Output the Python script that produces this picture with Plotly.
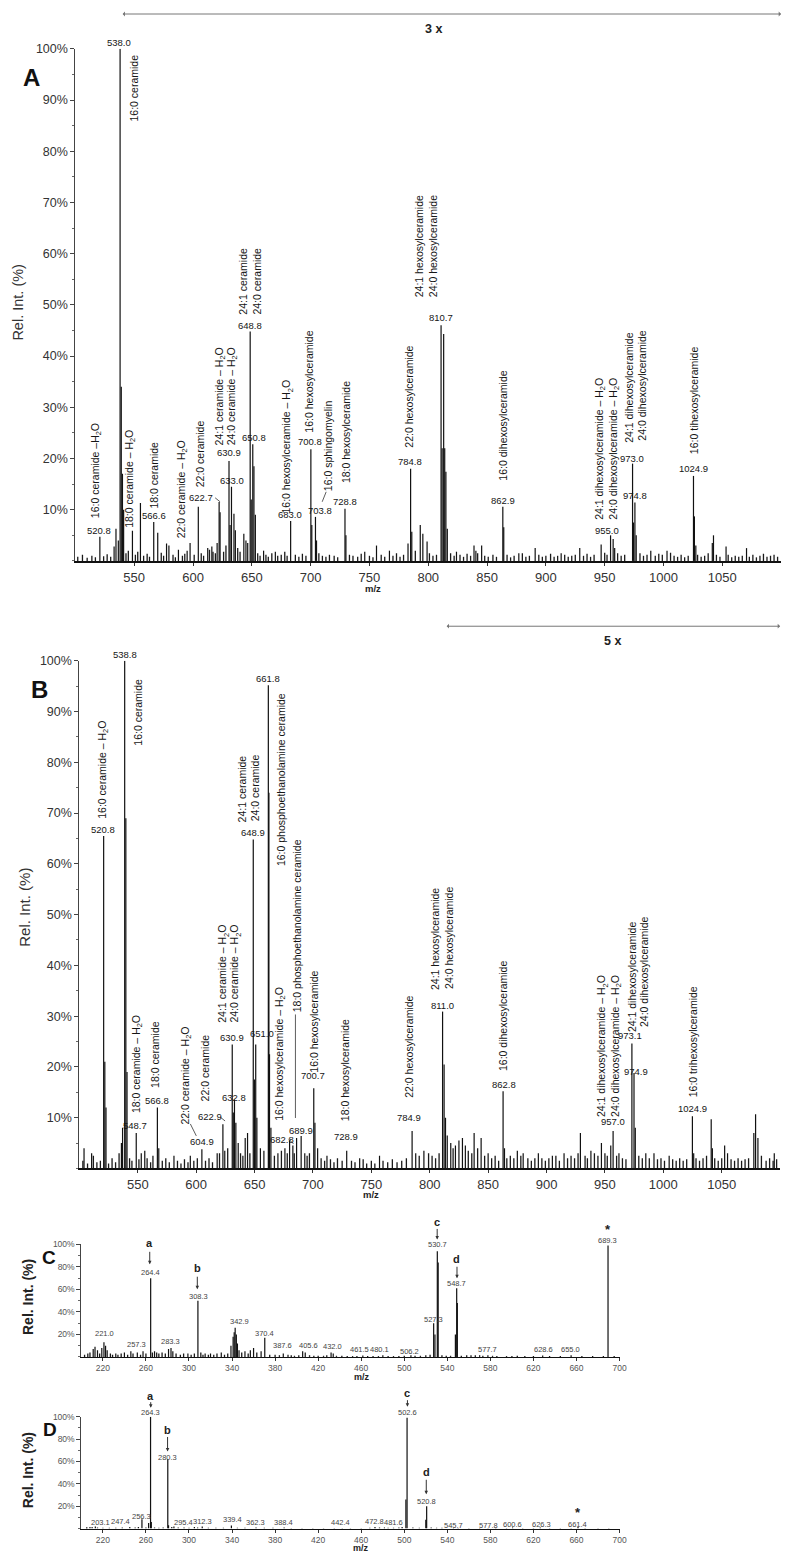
import plotly.graph_objects as go

W, H = 800, 1562            # page (screenshot) size in pixels
OFFX, OFFY = 8, 14          # offset of the figure inside the written html page
FW, FH = W - OFFX, H - OFFY # figure size so that it fits the page exactly
FONT = "Liberation Sans, Arial, Helvetica, sans-serif"


def PX(x):
    return (x - OFFX) / FW


def PY(y):
    return 1 - (y - OFFY) / FH


# ---------------- DATA (m/z, relative intensity %) ----------------
A_peaks = [(520.8, 4.7), (532.9, 2.8), (534.5, 6.3), (536.5, 4.0), (538.0, 100.0), (539.0, 34.0),
           (540.0, 17.0), (541.0, 10.0), (548.5, 5.9), (555.3, 11.3), (566.6, 7.6), (570.0, 5.5),
           (577.5, 3.4), (579.5, 3.0), (587.6, 2.2), (595.0, 2.0), (597.5, 3.5), (604.5, 10.6),
           (612.5, 2.5), (616.0, 2.8), (620.5, 3.5), (622.2, 11.5), (623.0, 9.5), (630.6, 19.5),
           (631.5, 7.0), (632.7, 14.5), (634.8, 9.2), (636.0, 6.0), (643.2, 5.3), (645.0, 4.0),
           (646.5, 3.5), (648.6, 44.8), (649.5, 12.0), (650.8, 22.8), (651.8, 18.5), (653.0, 9.0),
           (660.0, 2.0), (670.0, 1.8), (683.0, 7.8), (700.2, 21.8), (701.0, 7.0), (704.1, 8.6),
           (705.0, 4.0), (729.2, 10.2), (730.0, 5.0), (746.0, 1.8), (756.0, 3.0), (767.0, 2.0),
           (782.8, 3.4), (785.0, 18.0), (786.0, 5.7), (793.2, 7.0), (795.4, 5.3), (799.0, 3.8),
           (810.9, 46.0), (811.8, 22.0), (813.1, 44.3), (814.0, 22.0), (815.0, 17.4), (816.2, 6.3),
           (824.0, 1.8), (838.9, 3.0), (840.5, 2.0), (845.4, 3.0), (863.4, 10.6), (864.2, 6.6),
           (877.0, 1.5), (890.9, 2.5), (913.0, 1.5), (928.8, 2.5), (947.0, 3.2), (955.0, 5.0),
           (957.2, 4.3), (958.5, 2.5), (973.7, 19.0), (974.5, 7.5), (975.7, 11.4), (976.8, 5.0),
           (989.2, 2.0), (1003.0, 2.0), (1025.5, 16.6), (1026.3, 8.7), (1027.5, 3.0), (1041.5, 3.5),
           (1042.5, 5.0), (1053.2, 2.8), (1070.6, 2.5)]

A_noise = [(502, 0.8), (506, 1.2), (510, 0.6), (514, 1.0), (517, 0.7), (524, 0.9), (527, 1.3), (530, 0.8),
           (543, 1.5), (545, 2.0), (551, 1.2), (553, 1.8), (558, 1.0), (561, 1.4), (563, 0.8), (573, 1.6),
           (575, 1.0), (583, 1.2), (585, 0.7), (591, 1.0), (593, 1.4), (601, 1.2), (607, 1.5), (609, 1.0),
           (614, 2.2), (617, 1.8), (619, 1.5), (626, 1.8), (628, 3.0), (638, 2.5), (640, 1.8), (655, 1.5),
           (657, 1.0), (662, 1.2), (664, 0.8), (667, 1.5), (672, 1.0), (675, 1.2), (678, 1.8), (680, 1.0),
           (687, 1.2), (690, 0.8), (693, 1.4), (696, 1.0), (707, 1.5), (710, 1.0), (713, 0.8), (716, 1.2),
           (720, 1.0), (723, 0.7), (733, 1.2), (736, 1.0), (740, 0.8), (743, 1.4), (750, 1.0), (753, 0.7),
           (760, 1.2), (763, 0.8), (770, 1.0), (773, 1.5), (776, 0.8), (779, 1.2), (789, 2.0), (801, 1.5),
           (804, 1.0), (807, 1.2), (819, 1.5), (822, 1.0), (827, 1.2), (830, 0.8), (833, 1.4), (836, 1.0),
           (842, 1.5), (848, 1.0), (851, 0.8), (855, 1.2), (858, 0.8), (867, 1.2), (870, 0.7), (873, 1.0),
           (880, 1.5), (883, 0.8), (886, 1.0), (894, 1.2), (897, 0.8), (900, 1.0), (904, 1.4), (907, 0.8),
           (910, 1.0), (916, 1.2), (919, 0.8), (922, 1.0), (925, 1.2), (932, 1.0), (935, 1.4), (938, 0.8),
           (941, 1.2), (950, 1.6), (952, 1.2), (961, 1.5), (964, 1.0), (967, 1.2), (980, 1.5), (983, 1.0),
           (986, 1.2), (993, 1.0), (996, 1.4), (999, 1.2), (1006, 1.6), (1009, 1.0), (1012, 0.8), (1015, 1.2),
           (1018, 0.7), (1021, 1.0), (1029, 1.2), (1032, 0.8), (1035, 1.0), (1038, 1.5), (1045, 1.2),
           (1048, 0.8), (1055, 1.2), (1058, 0.7), (1061, 1.0), (1064, 0.8), (1067, 1.0), (1073, 0.8),
           (1076, 1.2), (1079, 0.7), (1082, 1.0), (1085, 1.4), (1088, 0.8), (1091, 1.0), (1094, 1.2), (1097, 0.8)]

B_peaks = [(504.0, 4.0), (510.5, 3.0), (520.8, 65.5), (521.8, 21.0), (522.8, 12.0), (536.0, 5.0), (537.0, 8.0),
           (538.8, 100.0), (539.8, 69.0), (540.8, 19.0), (548.7, 7.0), (553.0, 3.0), (556.0, 3.5),
           (566.8, 12.0), (568.0, 4.0), (581.0, 2.5), (595.0, 2.5), (604.9, 3.8), (618.0, 3.0),
           (622.9, 8.7), (624.5, 3.5), (630.9, 24.4), (631.8, 11.0), (632.8, 13.6), (634.0, 9.0),
           (636.0, 5.0), (642.0, 6.0), (644.0, 7.0), (648.9, 64.8), (649.9, 17.5), (651.0, 24.4),
           (652.0, 10.0), (655.0, 4.0), (658.0, 3.5), (661.8, 95.2), (662.3, 74.0), (662.8, 22.5),
           (664.0, 8.0), (670.0, 3.0), (676.0, 4.0), (680.0, 5.5), (682.8, 4.5), (686.0, 6.0),
           (689.9, 6.4), (693.0, 3.0), (700.7, 15.8), (701.7, 9.0), (704.0, 4.0), (712.0, 2.5),
           (728.9, 3.5), (740.0, 2.0), (757.0, 2.5), (784.9, 7.4), (788.0, 3.0), (795.0, 3.5),
           (811.0, 30.9), (812.3, 20.5), (813.5, 10.0), (815.0, 6.5), (818.0, 5.0), (822.0, 4.5),
           (825.0, 5.5), (828.0, 6.0), (830.5, 4.5), (838.0, 7.0), (844.0, 6.0), (850.0, 3.0),
           (862.8, 15.2), (864.0, 4.0), (875.0, 3.5), (880.0, 3.0), (893.0, 3.0), (905.0, 2.5),
           (915.0, 3.0), (929.0, 7.0), (938.0, 3.5), (947.0, 5.0), (955.0, 4.5), (957.0, 7.4),
           (962.0, 3.0), (973.1, 24.6), (974.9, 18.8), (976.0, 8.0), (985.0, 3.0), (992.0, 3.0),
           (1005.0, 2.5), (1024.9, 10.3), (1026.0, 3.0), (1041.0, 9.7), (1042.0, 4.0), (1052.5, 4.5),
           (1055.0, 3.0), (1077.5, 7.0), (1079.0, 10.7), (1081.0, 6.0), (1095.0, 3.0)]

B_noise = [(503, 1.5), (507, 1.0), (512, 2.5), (515, 1.2), (518, 1.5), (525, 1.0), (528, 2.0), (531, 1.2),
           (534, 3.0), (543, 2.0), (545, 1.5), (551, 1.8), (558, 2.0), (561, 1.2), (563, 2.5), (571, 1.5),
           (574, 2.0), (577, 1.2), (584, 1.5), (587, 1.0), (590, 1.8), (593, 1.2), (598, 1.5), (601, 2.0),
           (608, 1.5), (611, 2.0), (614, 1.2), (620, 3.0), (627, 4.0), (638, 3.0), (640, 2.5), (646, 3.0),
           (667, 2.5), (673, 3.5), (678, 3.0), (684, 3.0), (695, 2.5), (697, 3.0), (707, 2.0), (710, 1.5),
           (715, 1.8), (718, 1.2), (721, 2.0), (725, 1.5), (733, 1.5), (736, 1.2), (743, 1.8), (746, 1.0),
           (750, 1.5), (753, 1.0), (760, 1.5), (764, 1.2), (768, 1.8), (772, 1.2), (776, 1.5), (780, 2.0),
           (791, 2.5), (799, 3.0), (802, 2.5), (805, 2.0), (808, 3.0), (820, 4.0), (833, 3.5), (836, 3.0),
           (841, 4.0), (847, 2.5), (853, 2.0), (856, 2.5), (859, 1.5), (866, 2.0), (869, 2.5), (872, 2.0),
           (878, 2.5), (884, 2.0), (887, 1.5), (890, 2.0), (896, 2.0), (899, 1.5), (902, 2.0), (908, 2.5),
           (911, 1.5), (918, 2.0), (921, 2.5), (924, 2.0), (927, 3.0), (933, 2.5), (935, 2.0), (941, 3.0),
           (944, 2.5), (950, 3.0), (952, 2.5), (960, 2.5), (965, 2.0), (968, 1.8), (979, 2.5), (982, 2.0),
           (988, 2.0), (995, 1.8), (998, 2.0), (1001, 1.5), (1008, 1.8), (1011, 1.5), (1014, 2.0),
           (1017, 1.5), (1020, 1.8), (1028, 2.0), (1031, 1.5), (1034, 2.0), (1037, 2.5), (1044, 2.0),
           (1047, 1.5), (1050, 2.0), (1058, 1.8), (1061, 1.5), (1064, 2.0), (1067, 1.5), (1070, 1.8),
           (1073, 2.0), (1084, 2.5), (1088, 1.5), (1091, 2.0), (1094, 1.5), (1097, 1.8)]

C_peaks = [(211.0, 7.0), (212.7, 9.0), (215.0, 6.0), (219.0, 8.0), (221.0, 13.0), (222.5, 10.0), (224.0, 6.0),
           (232.0, 3.0), (240.0, 4.0), (246.0, 5.0), (252.0, 4.0), (257.3, 5.0), (264.4, 70.0),
           (268.0, 5.0), (270.0, 4.0), (281.0, 7.0), (283.3, 8.0), (285.0, 5.0), (299.0, 3.0),
           (308.3, 50.0), (315.0, 3.0), (320.0, 3.0), (330.0, 4.0), (339.0, 10.0), (341.0, 18.0),
           (342.0, 22.0), (342.9, 26.0), (344.0, 20.0), (345.0, 12.0), (346.5, 6.0), (352.0, 5.0),
           (357.0, 6.0), (360.0, 8.0), (367.0, 5.0), (370.4, 17.0), (387.6, 3.0), (392.0, 2.0),
           (405.6, 5.0), (408.0, 4.0), (432.0, 4.0), (434.0, 3.0), (461.5, 1.2), (480.1, 1.5),
           (506.2, 1.5), (527.3, 30.0), (528.5, 20.0), (530.7, 94.0), (531.5, 84.0), (547.5, 20.0),
           (548.7, 61.0), (549.3, 48.0), (577.7, 1.5), (628.6, 1.2), (655.0, 1.5), (689.3, 99.0)]

C_noise = [(203, 2), (206, 3), (208, 4), (217, 3), (227, 3), (229, 2), (234, 2), (237, 3), (243, 2),
           (248, 3), (255, 2), (260, 3), (266, 4), (272, 3), (275, 4), (278, 3), (288, 3), (292, 2),
           (295, 3), (302, 2), (305, 3), (311, 4), (313, 2), (318, 2), (323, 2), (326, 3), (333, 2),
           (336, 3), (349, 4), (355, 3), (363, 4), (375, 2), (380, 2), (384, 1.5), (395, 1.5), (398, 1),
           (402, 1.5), (412, 1.5), (416, 1), (420, 1), (425, 1), (428, 1.5), (437, 1), (442, 1), (447, 0.8),
           (452, 0.8), (456, 0.8), (466, 0.8), (471, 0.8), (476, 0.8), (485, 0.8), (490, 0.8), (495, 0.8),
           (500, 1), (510, 1), (515, 1), (520, 1.5), (524, 2), (535, 1.5), (539, 1), (543, 1), (553, 1),
           (558, 1.5), (562, 1.5), (566, 1.5), (570, 1.5), (573, 1), (582, 1), (586, 0.8), (595, 0.8),
           (600, 0.8), (605, 1), (612, 0.8), (620, 0.8), (635, 0.8), (645, 0.8), (665, 0.8), (675, 0.8),
           (685, 0.8), (695, 0.8)]

D_peaks = [(205.0, 1.0), (210.0, 1.5), (213.0, 2.0), (238.0, 1.0), (245.0, 1.5), (256.3, 8.4), (262.5, 5.0),
           (264.3, 100.0), (265.0, 6.0), (280.3, 62.0), (281.0, 3.0), (286.0, 2.0), (295.4, 1.0),
           (305.0, 1.5), (312.3, 2.0), (339.4, 2.8), (362.3, 1.0), (388.4, 1.0), (442.4, 0.6),
           (472.8, 1.5), (481.6, 1.0), (501.5, 26.0), (502.6, 99.0), (520.0, 8.0), (520.8, 20.0),
           (545.7, 0.6), (577.8, 0.6), (600.6, 1.0), (626.3, 1.0), (661.4, 1.5)]

D_noise = [(205, 1), (208, 1.5), (215, 1), (220, 0.8), (226, 0.8), (232, 0.8), (250, 1), (253, 1.5), (260, 1),
           (268, 1), (272, 0.8), (276, 1), (284, 1.5), (290, 1), (300, 0.8), (308, 1), (318, 0.8), (325, 0.8),
           (332, 0.8), (345, 0.8), (352, 0.8), (370, 0.8), (378, 0.8), (395, 0.5), (405, 0.5), (415, 0.5),
           (425, 0.5), (435, 0.5), (450, 0.5), (460, 0.5), (468, 0.8), (477, 1), (485, 0.8), (490, 0.8),
           (495, 1), (498, 1.5), (508, 1), (514, 0.8), (525, 1), (530, 0.8), (535, 0.8), (550, 0.5),
           (560, 0.5), (570, 0.5), (585, 0.5), (595, 0.5), (610, 0.5), (620, 0.5), (635, 0.5), (645, 0.5),
           (655, 0.5), (668, 0.5), (680, 0.5), (690, 0.5)]

AB_xticks = [550, 600, 650, 700, 750, 800, 850, 900, 950, 1000, 1050]
AB_yticks = [10, 20, 30, 40, 50, 60, 70, 80, 90, 100]
AB_ytext = ["10%", "20%", "30%", "40%", "50%", "60%", "70%", "80%", "90%", "100%"]
CD_xticks = [220, 260, 300, 340, 380, 420, 460, 500, 540, 580, 620, 660, 700]
CD_yticks = [20, 40, 60, 80, 100]
CD_ytext = ["20%", "40%", "60%", "80%", "100%"]

# peak annotations: (text, px, py)
A_names = [
    ("16:0 ceramide", 135, 87),
    ("16:0 ceramide –H<sub>2</sub>O", 97, 472),
    ("18:0 ceramide – H<sub>2</sub>O", 131, 480),
    ("18:0 ceramide", 155, 476),
    ("22:0 ceramide – H<sub>2</sub>O", 183, 490),
    ("22:0 ceramide", 202, 455),
    ("24:1 ceramide – H<sub>2</sub>O", 222, 397),
    ("24:0 ceramide – H<sub>2</sub>O", 234, 397),
    ("24:1 ceramide", 245, 281),
    ("24:0 ceramide", 259, 281),
    ("16:0 hexosylceramide – H<sub>2</sub>O", 290, 448),
    ("16:0 hexosylceramide", 312, 382),
    ("16:0 sphingomyelin", 331, 447),
    ("18:0 hexosylceramide", 349, 433),
    ("22:0 hexosylceramide", 413, 397),
    ("24:1 hexosylceramide", 423, 246),
    ("24:0 hexosylceramide", 437, 246),
    ("16:0 dihexosylceramide", 508, 427),
    ("24:1 dihexosylceramide – H<sub>2</sub>O", 605, 450),
    ("24:0 dihexosylceramide – H<sub>2</sub>O", 619, 450),
    ("24:1 dihexosylceramide", 635, 388),
    ("24:0 dihexosylceramide", 648, 386),
    ("16:0 tihexosylceramide", 700, 401),
]
A_vals = [("538.0", 120, 42), ("520.8", 100, 532), ("566.6", 155, 517), ("622.7", 203, 499),
          ("630.9", 231, 453), ("633.0", 234, 482), ("648.8", 252, 326), ("650.8", 256, 438),
          ("683.0", 293, 516), ("700.8", 313, 442), ("703.8", 323, 512), ("728.8", 348, 503),
          ("784.8", 414, 463), ("810.7", 445, 318), ("862.9", 507, 502), ("955.0", 612, 532),
          ("973.0", 638, 460), ("974.8", 641, 497), ("1024.9", 700, 470)]

B_names = [
    ("16:0 ceramide – H<sub>2</sub>O", 103, 772),
    ("16:0 ceramide", 139, 714),
    ("24:1 ceramide", 245, 791),
    ("24:0 ceramide", 258, 790),
    ("16:0 phosphoethanolamine ceramide", 283, 782),
    ("18:0 phosphoethanolamine ceramide", 299, 929),
    ("18:0 ceramide – H<sub>2</sub>O", 138, 1068),
    ("18:0 ceramide", 157, 1058),
    ("22:0 ceramide – H<sub>2</sub>O", 188, 1079),
    ("22:0 ceramide", 207, 1072),
    ("24:1 ceramide – H<sub>2</sub>O", 225, 977),
    ("24:0 ceramide – H<sub>2</sub>O", 237, 977),
    ("16:0 hexosylceramide – H<sub>2</sub>O", 283, 1058),
    ("16:0 hexosylceramide", 317, 1025),
    ("18:0 hexosylceramide", 348, 1074),
    ("22:0 hexosylceramide", 413, 1050),
    ("24:1 hexosylceramide", 439, 942),
    ("24:0 hexosylceramide", 453, 941),
    ("16:0 dihexosylceramide", 508, 1020),
    ("24:1 dihexosylceramide – H<sub>2</sub>O", 608, 1050),
    ("24:0 dihexosylceramide – H<sub>2</sub>O", 622, 1050),
    ("24:1 dihexosylceramide", 637, 980),
    ("24:0 dihexosylceramide", 649, 975),
    ("16:0 trihexosylceramide", 699, 1045),
]
B_vals = [("538.8", 126, 656), ("520.8", 104, 832), ("661.8", 270, 681), ("648.9", 255, 835),
          ("630.9", 234, 1041), ("651.0", 264, 1037), ("632.8", 236, 1101), ("566.8", 158, 1104),
          ("548.7", 136, 1130), ("622.9", 212, 1121), ("604.9", 204, 1146), ("682.8", 284, 1144),
          ("689.9", 304, 1135), ("700.7", 316, 1079), ("728.9", 349, 1141), ("784.9", 413, 1122),
          ("811.0", 446, 1009), ("862.8", 508, 1088), ("957.0", 618, 1126), ("973.1", 636, 1039),
          ("974.9", 642, 1075), ("1024.9", 699, 1112)]

C_vals = [("221.0", 105, 1338), ("257.3", 138, 1350), ("264.4", 152, 1277), ("283.3", 172, 1347),
          ("308.3", 200, 1301), ("342.9", 242, 1326), ("370.4", 267, 1338), ("387.6", 285, 1351),
          ("405.6", 311, 1351), ("432.0", 335, 1352), ("461.5", 363, 1355), ("480.1", 383, 1355),
          ("506.2", 413, 1357), ("527.3", 437, 1324), ("530.7", 441, 1249), ("548.7", 461, 1288),
          ("577.7", 492, 1355), ("628.6", 548, 1355), ("655.0", 576, 1355), ("689.3", 613, 1245)]
D_vals = [("203.1", 101, 1528), ("247.4", 122, 1527), ("256.3", 143, 1522), ("264.3", 152, 1418),
          ("280.3", 169, 1463), ("295.4", 185, 1528), ("312.3", 204, 1527), ("339.4", 234, 1525),
          ("362.3", 258, 1528), ("388.4", 286, 1528), ("442.4", 343, 1528), ("472.8", 378, 1527),
          ("481.6", 397, 1528), ("502.6", 411, 1418), ("520.8", 430, 1507), ("545.7", 457, 1531),
          ("577.8", 493, 1531), ("600.6", 517, 1530), ("626.3", 546, 1530), ("661.4", 583, 1530)]

# fragment letters: (text, px, py, arrow_top, arrow_bottom)
C_frag = [("a", 151, 1248, 1255, 1269), ("b", 199, 1273, 1280, 1294),
          ("c", 441, 1226, 1232, 1244), ("d", 461, 1264, 1270, 1283)]
D_frag = [("a", 152, 1401, 1406, 1413), ("b", 169, 1435, 1441, 1457),
          ("c", 411, 1398, 1404, 1412), ("d", 430, 1478, 1484, 1500)]
stars = [(613, 1234), (583, 1518)]

# ---------------- FIGURE ----------------
fig = go.Figure()


def sticks(pairs):
    xs, ys = [], []
    for m, v in pairs:
        xs += [m, m, None]
        ys += [0, v, None]
    return xs, ys


panels = [(A_peaks, A_noise, "x", "y"), (B_peaks, B_noise, "x2", "y2"),
          (C_peaks, C_noise, "x3", "y3"), (D_peaks, D_noise, "x4", "y4")]
for pk, nz, xa, ya in panels:
    x, y = sticks(nz)
    fig.add_trace(go.Scatter(x=x, y=y, mode="lines", line=dict(color="#1a1a1a", width=1.3),
                             xaxis=xa, yaxis=ya, hoverinfo="skip", showlegend=False))
    x, y = sticks(pk)
    fig.add_trace(go.Scatter(x=x, y=y, mode="lines", line=dict(color="#111111", width=1.2),
                             xaxis=xa, yaxis=ya, hoverinfo="skip", showlegend=False))


def xax(px0, px1, anchor, rng, tv, fs, col, lw):
    return dict(domain=[PX(px0), PX(px1)], anchor=anchor, range=rng, tickvals=tv,
                ticks="outside", ticklen=3, tickcolor="#333", tickwidth=1,
                showline=True, linecolor="#111", linewidth=lw, showgrid=False, zeroline=False,
                tickfont=dict(family=FONT, size=fs, color=col), fixedrange=True)


def yax(py0, py1, anchor, tv, tt, fs, col, minor_dt):
    return dict(domain=[PY(py0), PY(py1)], anchor=anchor, range=[0, 100], tickvals=tv, ticktext=tt,
                ticks="outside", ticklen=4, tickcolor="#444", tickwidth=1,
                minor=dict(ticks="outside", dtick=minor_dt, ticklen=2, tickcolor="#666"),
                showline=True, linecolor="#444", linewidth=1, showgrid=False, zeroline=False,
                tickfont=dict(family=FONT, size=fs, color=col), fixedrange=True)


fig.update_layout(
    width=FW, height=FH, margin=dict(l=0, r=0, t=0, b=0),
    paper_bgcolor="white", plot_bgcolor="white", showlegend=False,
    xaxis=xax(76, 788, "y", [500, 1100], AB_xticks, 13, "#333", 2),
    yaxis=yax(562.4, 48, "x", AB_yticks, AB_ytext, 12.5, "#333", 5),
    xaxis2=xax(80, 787, "y2", [500, 1100], AB_xticks, 13, "#333", 2),
    yaxis2=yax(1172.7, 662.7, "x2", AB_yticks, AB_ytext, 12.5, "#333", 5),
    xaxis3=xax(82, 625, "y3", [200, 700], CD_xticks, 8.5, "#555", 1),
    yaxis3=yax(1362, 1249, "x3", CD_yticks, CD_ytext, 8.5, "#555", 10),
    xaxis4=xax(82, 625, "y4", [200, 700], CD_xticks, 8.5, "#555", 1),
    yaxis4=yax(1534.5, 1422, "x4", CD_yticks, CD_ytext, 8.5, "#555", 10),
)

ann = []


def txt(t, px, py, size, color="#111", angle=0, bold=False):
    if bold:
        t = "<b>" + t + "</b>"
    ann.append(dict(text=t, x=PX(px), y=PY(py), xref="paper", yref="paper", showarrow=False,
                    textangle=angle, xanchor="center", yanchor="middle",
                    font=dict(family=FONT, size=size, color=color)))


for t, x, y in A_names + B_names:
    txt(t, x, y, 10.5, "#151515", -90)
for t, x, y in A_vals + B_vals:
    txt(t, x, y, 9.5, "#151515")
for t, x, y in C_vals + D_vals:
    txt(t, x, y, 7.5, "#444")

for t, x, y, a0, a1 in C_frag + D_frag:
    txt(t, x, y, 11, "#222", bold=True)
    ann.append(dict(text="", x=PX(x), y=PY(a1), xref="paper", yref="paper", showarrow=True,
                    ax=0, ay=-(a1 - a0), arrowhead=2, arrowsize=0.7, arrowwidth=1, arrowcolor="#333"))
for x, y in stars:
    txt("*", x, y, 13, "#222", bold=True)

# panel letters
txt("A", 32, 77, 24, "#111", bold=True)
txt("B", 40, 692, 24, "#111", bold=True)
txt("C", 49, 1262, 19, "#111", bold=True)
txt("D", 50, 1435, 19, "#111", bold=True)

# axis titles
txt("Rel. Int. (%)", 18, 302, 14.5, "#333", -90)
txt("Rel. Int. (%)", 25, 910, 15, "#333", -90)
txt("Rel. Int. (%)", 28, 1302, 14, "#222", -90, bold=True)
txt("Rel. Int. (%)", 29, 1476, 14, "#222", -90, bold=True)
txt("m/z", 376, 590, 9.5, "#222", bold=True)
txt("m/z", 374, 1199, 9.5, "#222", bold=True)
txt("m/z", 365, 1382, 9, "#222", bold=True)
txt("m/z", 364, 1554, 9, "#222", bold=True)

# zoom factor brackets
txt("3 x", 437, 28, 12.5, "#222", bold=True)
txt("5 x", 618, 643, 12.5, "#222", bold=True)
for x0, x1, y in [(128, 788, 13), (452, 787, 628)]:
    ann.append(dict(text="", x=PX(x1), y=PY(y), xref="paper", yref="paper", showarrow=True,
                    ax=-(x1 - x0), ay=0, arrowside="end+start", arrowhead=1, startarrowhead=1,
                    arrowsize=0.8, startarrowsize=0.8, arrowwidth=1, arrowcolor="#777"))

fig.update_layout(annotations=ann)

# leader lines
leaders = [(217, 499, 222, 503), (325, 503, 329, 493),
           (298, 1018, 298, 1122), (192, 1128, 198, 1140), (222, 1121, 227, 1125), (291, 1143, 296, 1148)]
for x0, y0, x1, y1 in leaders:
    fig.add_shape(type="line", xref="paper", yref="paper", x0=PX(x0), y0=PY(y0), x1=PX(x1), y1=PY(y1),
                  line=dict(color="#333", width=0.8))

fig.write_html("out.html")
